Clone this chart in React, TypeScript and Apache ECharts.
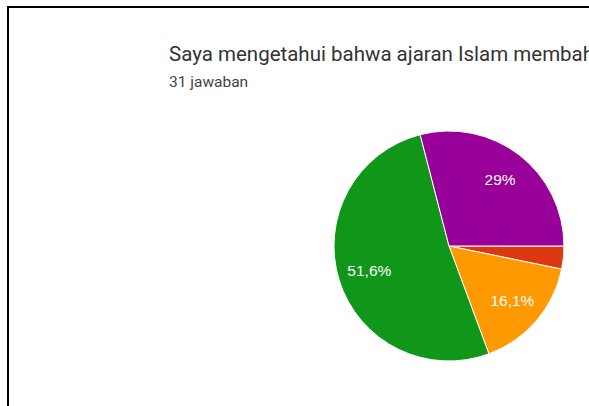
import React, { useEffect, useRef } from "react";
import * as echarts from "echarts";

const titleText = "Saya mengetahui bahwa ajaran Islam membahas";
const subtitleText = "31 jawaban";
const categories = ["Opsi 2", "Opsi 3", "Opsi 4", "Opsi 5"];
const counts = [1, 5, 16, 9];
const colors = ["#dc3912", "#ff9900", "#109618", "#990099"];

export default function App() {
  const ref = useRef<HTMLDivElement>(null);
  useEffect(() => {
    if (!ref.current) return;
    const chart = echarts.init(ref.current, null, { renderer: "svg" });
    const total = counts.reduce((a, b) => a + b, 0);
    const fmt = (v: number) => {
      const p = Math.round((v / total) * 1000) / 10;
      return (Number.isInteger(p) ? String(p) : p.toFixed(1).replace(".", ",")) + "%";
    };
    const data = categories.map((c, i) => ({ name: c, value: counts[i], itemStyle: { color: colors[i] } }));
    chart.setOption({
      animation: false,
      backgroundColor: "#ffffff",
      graphic: [
        { type: "rect", shape: { x: 7, y: 6, width: 600, height: 2 }, style: { fill: "#000" } },
        { type: "rect", shape: { x: 7, y: 6, width: 2, height: 420 }, style: { fill: "#000" } },
        {
          type: "text", x: 169, y: 54,
          style: { text: titleText, fill: "#333333", font: "20.5px Roboto", textVerticalAlign: "middle" },
        },
        {
          type: "text", x: 169, y: 82,
          style: { text: subtitleText, fill: "#444444", font: "15.5px Roboto", textVerticalAlign: "middle" },
        },
      ],
      series: [
        {
          type: "pie",
          center: [449, 246],
          radius: [0, 115],
          startAngle: 0,
          clockwise: true,
          silent: true,
          data,
          label: { show: false },
          labelLine: { show: false },
          itemStyle: { borderColor: "#ffffff", borderWidth: 1 },
        },
        {
          type: "pie",
          center: [449, 246],
          radius: [46, 115],
          startAngle: 0,
          clockwise: true,
          silent: true,
          data: categories.map((c, i) => ({ name: c, value: counts[i] })),
          itemStyle: { color: "rgba(0,0,0,0)" },
          labelLine: { show: false },
          label: {
            show: true,
            position: "inside",
            color: "#ffffff",
            fontFamily: "Arial, Liberation Sans",
            fontSize: 15.5,
            formatter: (p: any) => (p.value / total < 0.05 ? "" : fmt(p.value)),
          },
        },
      ],
    });
    return () => chart.dispose();
  }, []);
  return (
    <div
      ref={ref}
      style={{ position: "fixed", left: 0, top: 0, width: 589, height: 406 }}
    />
  );
}
